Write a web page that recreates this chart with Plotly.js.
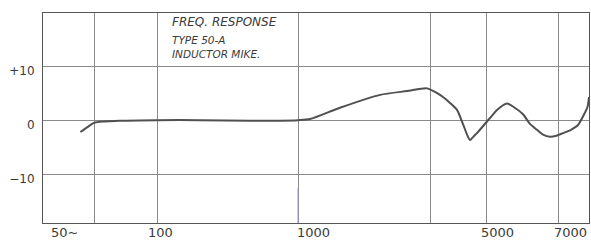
<!DOCTYPE html>
<html>
<head>
<meta charset="utf-8">
<script src="https://cdn.plot.ly/plotly-3.0.1.min.js"></script>
<style>
html,body{margin:0;padding:0;background:#fff;}
#chart{width:591px;height:244px;}
</style>
</head>
<body>
<div id="chart"></div>
<script>
// ---- Data ----
const freqHz = [64, 67, 70, 74, 81, 100, 202, 457, 1000, 1105, 1418, 1980, 2480, 2925, 3150,
                3378, 3600, 3838, 4050, 4243, 4321, 4450, 4605, 5095, 5264, 5516, 5700, 5944,
                6141, 6346, 6527, 6743, 6950, 7158, 7400, 7630, 7824, 7950, 8000];
const responseDb = [-2.1, -1.2, -0.4, -0.15, 0, 0.1, 0.1, 0, 0.1, 0.3, 2.4, 4.8, 5.5, 6.0, 5.3,
                    4.4, 3.3, 2.0, -0.6, -3.0, -3.6, -3.0, -2.3, 0.5, 2.0, 3.2, 2.5, 1.2,
                    -0.6, -1.7, -2.6, -3.0, -2.8, -2.3, -1.7, -0.8, 1.1, 2.6, 4.4];

// Hand-drawn frequency scale: grid frequencies and their spacing on the paper
const gridFreqs = [50, 70, 100, 1000, 3000, 5000, 7000, 8000];
const gridSpacing = [0, 51, 114, 255, 387, 443, 515, 546];

const xTickFreqs = [50, 100, 1000, 5000, 7000];
const xTickText = ['50~', '100', '1000', '5000', '7000'];
const xTickShift = [21, 3, 15, 11, 12];

const yTickVals = [-10, 0, 10];
const yTickText = ['\u221210', '0', '+10'];

const titleText = 'FREQ. RESPONSE';
const subtitleLines = ['TYPE 50-A', 'INDUCTOR MIKE.'];

// piecewise-log scale of the drawn chart
function scalePos(f) {
  for (let i = 0; i < gridFreqs.length - 1; i++) {
    if (f <= gridFreqs[i + 1] || i === gridFreqs.length - 2) {
      const t = Math.log(f / gridFreqs[i]) / Math.log(gridFreqs[i + 1] / gridFreqs[i]);
      return gridSpacing[i] + (gridSpacing[i + 1] - gridSpacing[i]) * t;
    }
  }
}

const ink = '#3a3a3a';
const gridCol = '#8a8a8a';

const trace = {
  x: freqHz.map(scalePos),
  y: responseDb,
  mode: 'lines',
  line: {color: '#505050', width: 2, shape: 'spline', smoothing: 0.7},
  hoverinfo: 'skip'
};

const annotations = [];
xTickFreqs.forEach((f, i) => {
  annotations.push({
    x: scalePos(f), xref: 'x', y: 0, yref: 'paper',
    yanchor: 'top', xanchor: 'center', yshift: 0, xshift: xTickShift[i],
    text: xTickText[i], showarrow: false,
    font: {family: 'DejaVu Sans', size: 13, color: ink}
  });
});
const titleX = (170 - 43) / 546;
annotations.push({
  x: titleX, xref: 'paper', y: 1 - (22 - 13) / 210, yref: 'paper',
  xanchor: 'left', yanchor: 'middle', text: titleText, showarrow: false,
  font: {family: 'DejaVu Sans', size: 12, color: ink, style: 'italic'}
});
annotations.push({
  x: titleX, xref: 'paper', y: 1 - (46.5 - 13) / 210, yref: 'paper',
  xanchor: 'left', yanchor: 'middle', align: 'left', text: subtitleLines.join('<br>'),
  showarrow: false,
  font: {family: 'DejaVu Sans', size: 10.5, color: ink, style: 'italic'}
});

const layout = {
  width: 591, height: 244,
  margin: {l: 43, r: 2, t: 13, b: 21},
  paper_bgcolor: '#ffffff', plot_bgcolor: '#ffffff',
  showlegend: false,
  xaxis: {
    range: [scalePos(50), scalePos(8000)],
    tickvals: gridFreqs.slice(1, -1).map(scalePos),
    showticklabels: false, ticks: '',
    showgrid: true, gridcolor: gridCol, gridwidth: 1,
    zeroline: false, showline: true, linecolor: '#555', linewidth: 1, mirror: true,
    fixedrange: true
  },
  yaxis: {
    range: [-19, 20],
    tickvals: yTickVals, ticktext: yTickText,
    ticks: '', ticklabelstandoff: 5, ticklabelshift: 4,
    tickfont: {family: 'DejaVu Sans', size: 12, color: ink},
    showgrid: true, gridcolor: gridCol, gridwidth: 1,
    zeroline: false, showline: true, linecolor: '#555', linewidth: 1, mirror: true,
    fixedrange: true
  },
  shapes: [{
    type: 'line', xref: 'x', yref: 'paper',
    x0: scalePos(1000), x1: scalePos(1000), y0: 0, y1: (223 - 188) / 210,
    line: {color: '#9a90d8', width: 1}
  }],
  annotations: annotations
};

Plotly.newPlot('chart', [trace], layout, {staticPlot: true, displayModeBar: false});
</script>
</body>
</html>
